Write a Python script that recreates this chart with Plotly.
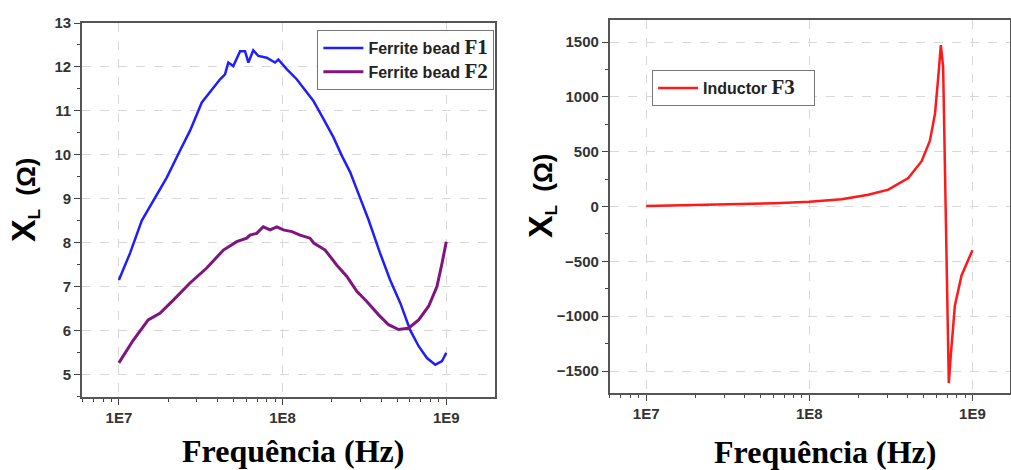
import plotly.graph_objects as go

# Ferrite bead F1 (Hz, ohm)
f1_freq = [1.0e7, 1.17e7, 1.38e7, 1.62e7, 1.96e7, 2.36e7, 2.72e7, 3.21e7, 3.69e7, 4.15e7,
           4.45e7, 4.66e7, 5.0e7, 5.5e7, 5.9e7, 6.18e7, 6.62e7, 7.11e7, 8.0e7, 8.99e7,
           9.42e7, 1.06e8, 1.22e8, 1.34e8, 1.54e8, 1.78e8, 2.05e8, 2.30e8, 2.59e8,
           2.91e8, 3.35e8, 3.94e8, 4.54e8, 5.24e8, 6.03e8, 6.78e8, 7.62e8, 8.57e8,
           9.42e8, 1.0e9]
f1_xl = [7.15, 7.76, 8.5, 8.95, 9.48, 10.09, 10.55, 11.19, 11.49, 11.72,
         11.83, 12.1, 12.02, 12.36, 12.36, 12.1, 12.38, 12.25, 12.21, 12.1,
         12.17, 11.95, 11.72, 11.53, 11.23, 10.81, 10.39, 9.98, 9.6,
         9.11, 8.52, 7.76, 7.15, 6.62, 6.0, 5.64, 5.37, 5.22,
         5.3, 5.49]

# Ferrite bead F2
f2_freq = [1.0e7, 1.22e7, 1.51e7, 1.78e7, 2.15e7, 2.72e7, 3.44e7, 4.35e7, 5.25e7, 6.04e7,
           6.32e7, 6.95e7, 7.62e7, 8.39e7, 9.23e7, 1.01e8, 1.14e8, 1.28e8, 1.47e8,
           1.55e8, 1.82e8, 2.14e8, 2.47e8, 2.84e8, 3.27e8, 3.85e8, 4.44e8, 5.11e8,
           5.87e8, 6.78e8, 7.80e8, 8.77e8, 9.42e8, 1.0e9]
f2_xl = [5.26, 5.77, 6.24, 6.39, 6.69, 7.08, 7.42, 7.83, 8.02, 8.1,
         8.17, 8.21, 8.36, 8.29, 8.36, 8.29, 8.25, 8.17, 8.1,
         7.99, 7.83, 7.49, 7.23, 6.89, 6.66, 6.36, 6.13, 6.02,
         6.05, 6.24, 6.55, 7.0, 7.53, 8.02]

# Inductor F3
f3_freq = [1.0e7, 2.44e7, 6.17e7, 1.0e8, 1.58e8, 2.3e8, 3.05e8, 4.04e8, 4.88e8, 5.48e8,
           5.89e8, 6.17e8, 6.4e8, 6.61e8, 6.76e8, 6.87e8, 7.0e8, 7.16e8, 7.36e8,
           7.8e8, 8.57e8, 1.0e9]
f3_xl = [5, 15, 30, 43, 67, 108, 154, 260, 414, 598,
         844, 1180, 1472, 1272, 476, -444, -1058, -1610, -1364,
         -904, -628, -398]

x_ticks = [1e7, 1e8, 1e9]
x_ticktext = ["1E7", "1E8", "1E9"]
x_minor = [m * 10 ** e for e in (6, 7, 8, 9) for m in range(2, 10)]

fig = go.Figure()

fig.add_trace(go.Scatter(
    x=f1_freq, y=f1_xl, mode="lines", xaxis="x", yaxis="y",
    line=dict(color="rgb(30,30,255)", width=2.5),
    name="Ferrite bead <span style='font-family:Liberation Serif;font-size:21px'><b>F1</b></span>",
    legend="legend"))
fig.add_trace(go.Scatter(
    x=f2_freq, y=f2_xl, mode="lines", xaxis="x", yaxis="y",
    line=dict(color="rgb(128,20,128)", width=3),
    name="Ferrite bead <span style='font-family:Liberation Serif;font-size:21px'><b>F2</b></span>",
    legend="legend"))
fig.add_trace(go.Scatter(
    x=f3_freq, y=f3_xl, mode="lines", xaxis="x2", yaxis="y2",
    line=dict(color="rgb(255,25,25)", width=2.5),
    name="Inductor <span style='font-family:Liberation Serif;font-size:21px'><b>F3</b></span>   ",
    legend="legend2"))

tickfont = dict(family="Liberation Sans", size=15, color="#333", weight="bold")

xaxis_common = dict(
    type="log", tickvals=x_ticks, ticktext=x_ticktext, tickfont=tickfont,
    ticks="outside", ticklen=6, tickcolor="#444", automargin=False,
    showline=True, linecolor="#555", linewidth=1.5, mirror=True,
    showgrid=True, gridcolor="#d8d8d8", griddash="dash",
    minor=dict(tickvals=x_minor, ticks="outside", ticklen=3, tickcolor="#444", showgrid=False),
    zeroline=False)
yaxis_common = dict(
    tickfont=tickfont, ticks="outside", ticklen=6, tickcolor="#444", automargin=False,
    showline=True, linecolor="#555", linewidth=1.5, mirror=True,
    showgrid=True, gridcolor="#d8d8d8", griddash="dash", zeroline=False)

fig.update_layout(
    width=1011, height=470,
    margin=dict(l=0, r=0, t=0, b=0, autoexpand=False),
    paper_bgcolor="white", plot_bgcolor="white",
    xaxis=dict(xaxis_common, domain=[0.081, 0.490], range=[6.774, 9.30], anchor="y"),
    yaxis=dict(yaxis_common, domain=[0.155, 0.951], range=[4.48, 13], dtick=1,
               minor=dict(dtick=0.5, ticks="outside", ticklen=3, tickcolor="#444", showgrid=False),
               anchor="x"),
    xaxis2=dict(xaxis_common, domain=[0.603, 0.999], range=[6.776, 9.23], anchor="y2"),
    yaxis2=dict(yaxis_common, domain=[0.164, 0.957], range=[-1700, 1700], dtick=500,
                minor=dict(dtick=250, ticks="outside", ticklen=3, tickcolor="#444", showgrid=False),
                anchor="x2"),
    legend=dict(x=0.489, y=0.936, xanchor="right", yanchor="top",
                bgcolor="white", bordercolor="#777", borderwidth=1,
                font=dict(family="Liberation Sans", size=16, color="#222", weight="bold"),
                tracegroupgap=0, itemwidth=40),
    legend2=dict(x=0.645, y=0.851, xanchor="left", yanchor="top",
                 bgcolor="white", bordercolor="#777", borderwidth=1,
                 font=dict(family="Liberation Sans", size=16, color="#222", weight="bold"),
                 itemwidth=40),
    showlegend=True,
)

ytitle = ("<b><span style='font-size:34px'>X</span><sub>L</sub>"
          "  <span style='font-size:26px'>(Ω)</span></b>")
xtitle = "<b>Frequência (Hz)</b>"

fig.add_annotation(x=24 / 1011, y=1 - 200 / 470, xref="paper", yref="paper",
                   xanchor="center", yanchor="middle",
                   text=ytitle, textangle=-90, showarrow=False,
                   font=dict(family="Liberation Sans", size=24, color="black"))
fig.add_annotation(x=541 / 1011, y=1 - 196 / 470, xref="paper", yref="paper",
                   xanchor="center", yanchor="middle",
                   text=ytitle, textangle=-90, showarrow=False,
                   font=dict(family="Liberation Sans", size=24, color="black"))
fig.add_annotation(x=293 / 1011, y=1 - 451 / 470, xref="paper", yref="paper",
                   xanchor="center", yanchor="middle",
                   text=xtitle, showarrow=False,
                   font=dict(family="Liberation Serif", size=32, color="black"))
fig.add_annotation(x=825 / 1011, y=1 - 452 / 470, xref="paper", yref="paper",
                   xanchor="center", yanchor="middle",
                   text=xtitle, showarrow=False,
                   font=dict(family="Liberation Serif", size=32, color="black"))

# page default body margin would shift the fixed-size figure
fig.write_html("out.html", config={"displayModeBar": False},
               post_script="document.body.style.margin='0';")
